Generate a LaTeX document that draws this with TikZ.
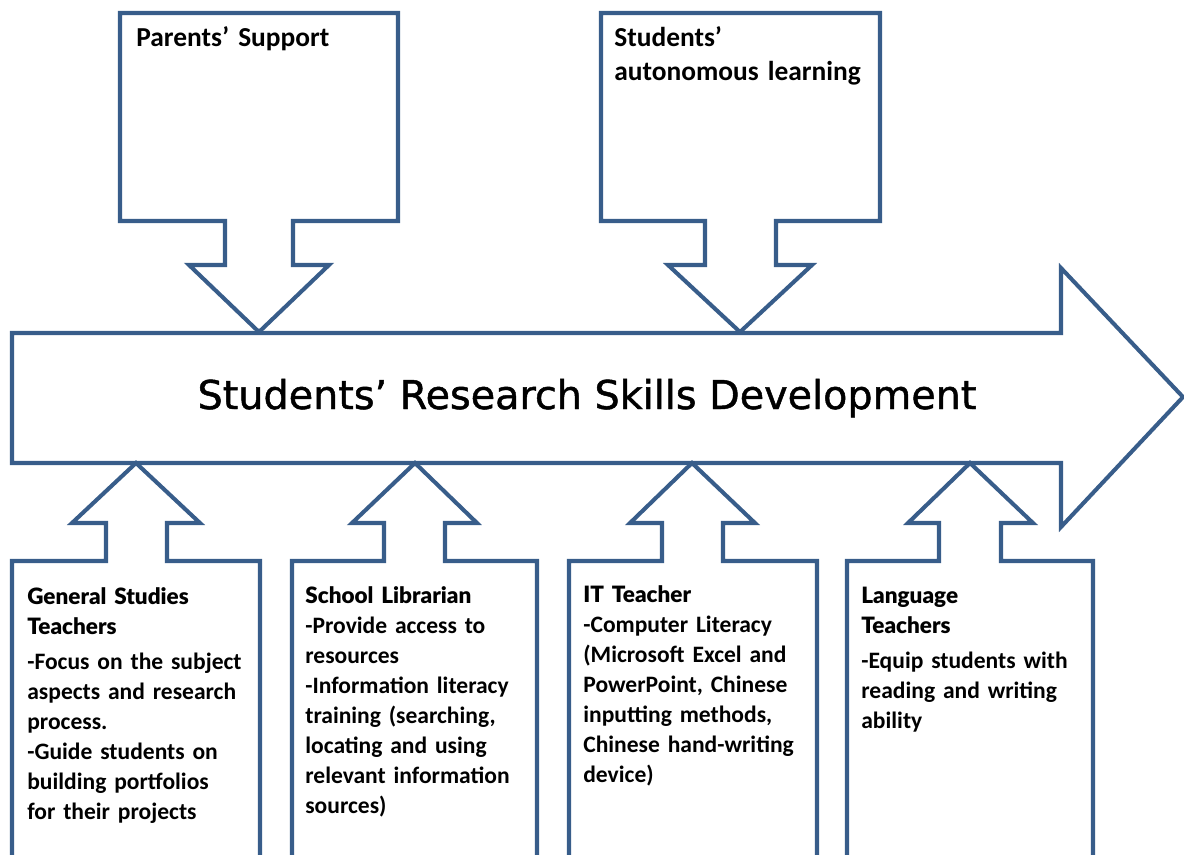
\documentclass[tikz,border=0pt]{standalone}
\usepackage{fontspec}
\setmainfont{Carlito}
\newfontfamily\headfont{Lato Black}[BoldFont={Lato Black}]
\newfontfamily\titlefont{DejaVu Sans}[FakeBold=1.2]
\usetikzlibrary{positioning}
\definecolor{edgeblue}{HTML}{385D8A}
\tikzstyle{callout} = [draw=edgeblue, line width=2.3pt, line join=miter, fill=white]
\tikzstyle{boxtext} = [anchor=base west, inner sep=0pt, align=left, text width=4.6cm, font=\fontsize{13.4}{17.1}\selectfont\bfseries]
\tikzstyle{toptext} = [anchor=base west, inner sep=0pt, align=left, text width=5cm, font=\fontsize{15.6}{18.8}\selectfont\bfseries]

\begin{document}
\begin{tikzpicture}[x=0.02cm, y=-0.02cm]
	\useasboundingbox (0,0) rectangle (1184,855);
	\clip (0,0) rectangle (1184,855);

	% callouts from above
	\path [callout] (120,13) -- (398,13) -- (398,221) -- (293,221) -- (293,265) -- (329,265)
		-- (259,332) -- (189,265) -- (225,265) -- (225,221) -- (120,221) -- cycle;
	\path [callout] (601,13) -- (880,13) -- (880,221) -- (776,221) -- (776,265) -- (812,265)
		-- (740,332) -- (668,265) -- (705,265) -- (705,221) -- (601,221) -- cycle;

	% main arrow
	\path [callout] (12,333) -- (1061,333) -- (1061,268) -- (1183,397) -- (1061,527)
		-- (1061,463) -- (12,463) -- cycle;

	% callouts from below
	\path [callout] (12,870) -- (12,561) -- (106,561) -- (106,523) -- (72,523) -- (136,463)
		-- (200,523) -- (167,523) -- (167,561) -- (260,561) -- (260,870);
	\path [callout] (292,870) -- (292,561) -- (384,561) -- (384,523) -- (352,523) -- (415,463)
		-- (477,523) -- (445,523) -- (445,561) -- (537,561) -- (537,870);
	\path [callout] (569,870) -- (569,561) -- (662,561) -- (662,523) -- (630,523) -- (692,463)
		-- (755,523) -- (723,523) -- (723,561) -- (817,561) -- (817,870);
	\path [callout] (847,870) -- (847,561) -- (939,561) -- (939,523) -- (908,523) -- (970,463)
		-- (1033,523) -- (1001,523) -- (1001,561) -- (1093,561) -- (1093,870);

	\node [toptext] (parents) at (136,47) {Parents’ Support};
	\node [toptext] (autonomy) at (614,47) {Students’\\autonomous learning};

	\node [font=\titlefont\fontsize{22.6}{27}\selectfont, inner sep=0pt, anchor=base] (skills) at (587,409)
		{Students’ Research Skills Development};

	\node [boxtext] (gsteach) at (27,604) {{\headfont\fontsize{12.8}{17.1}\selectfont General Studies\\Teachers}\\[3pt]
		-Focus on the subject\\aspects and research\\process.\\-Guide students on\\building portfolios\\for their projects};
	\node [boxtext] (librarian) at (305,603) {{\headfont\fontsize{12.8}{17.1}\selectfont School Librarian}\\
		-Provide access to\\resources\\-Information literacy\\training (searching,\\locating and using\\relevant information\\sources)};
	\node [boxtext] (itteach) at (583,602) {{\headfont\fontsize{12.8}{17.1}\selectfont IT Teacher}\\
		-Computer Literacy\\(Microsoft Excel and\\PowerPoint, Chinese\\inputting methods,\\Chinese hand-writing\\device)};
	\node [boxtext] (langteach) at (861,603) {{\headfont\fontsize{12.8}{17.1}\selectfont Language\\Teachers}\\[3pt]
		-Equip students with\\reading and writing\\ability};
\end{tikzpicture}
\end{document}
